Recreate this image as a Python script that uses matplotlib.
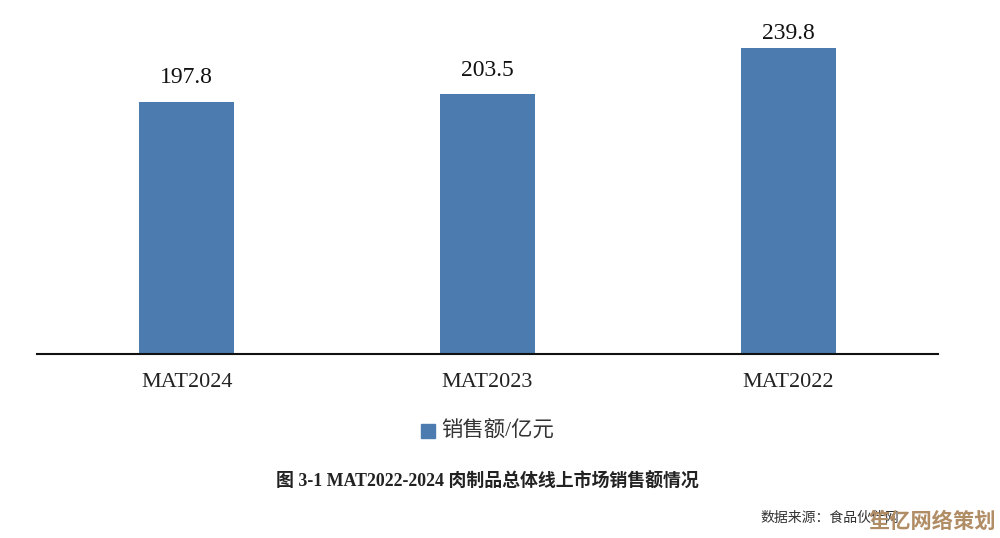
import matplotlib
matplotlib.use('Agg')
import matplotlib.pyplot as plt
from matplotlib.patches import Rectangle

plt.rcParams['font.family'] = ['Liberation Serif', 'Noto Sans CJK SC', 'DejaVu Sans']

categories = ['MAT2024', 'MAT2023', 'MAT2022']
sales = [197.8, 203.5, 239.8]
legend_label = '销售额/亿元'
title = '图 3-1 MAT2022-2024 肉制品总体线上市场销售额情况'
source = '数据来源：食品伙伴网'
watermark = '笙亿网络策划'
color = '#4c7bb0'
label_gaps = [9.5, 9.5, 3]

W, H = 1000, 538
fig = plt.figure(figsize=(W / 100, H / 100), dpi=100)

# axes box in pixels, baseline at y=354
left, right, top, base = 36.5, 938.5, 20, 354
ax = fig.add_axes([left / W, 1 - base / H, (right - left) / W, (base - top) / H])
x = range(len(categories))
ax.bar(x, sales, width=0.316, color=color)
ax.set_xlim(-0.5, 2.5)
ax.set_ylim(0, 239.8 * (base - top) / (354 - 48))
for i, v, gap in zip(x, sales, label_gaps):
    ax.annotate(f'{v:.1f}', (i, v), xytext=(0, gap), textcoords='offset points',
                ha='center', va='bottom', fontsize=17, color='#111111')

for s in ['top', 'left', 'right']:
    ax.spines[s].set_visible(False)
ax.spines['bottom'].set_linewidth(1.5)
ax.spines['bottom'].set_color('#111111')
ax.set_yticks([])
ax.set_xticks(list(x))
ax.set_xticklabels(categories, fontsize=16, color='#222222')
ax.tick_params(axis='x', length=0, pad=14)

fig.add_artist(Rectangle((421 / W, 1 - 438 / H), 14 / W, 14 / H, color=color,
                         transform=fig.transFigure))
fig.text(441 / W, 1 - 432 / H, legend_label, fontsize=15.4, va='center', ha='left', color='#333333')
fig.text(487.5 / W, 1 - 481.5 / H, title, fontsize=12.9, va='center', ha='center',
         fontweight='bold', color='#222222')
fig.text(760 / W, 1 - 518 / H, source, fontsize=10, va='center', ha='left', color='#333333')
fig.text(932 / W, 1 - 523 / H, watermark, fontsize=15.3, va='center', ha='center',
         color='#b08d65', fontweight='bold')

fig.savefig('out.png', dpi=100)
